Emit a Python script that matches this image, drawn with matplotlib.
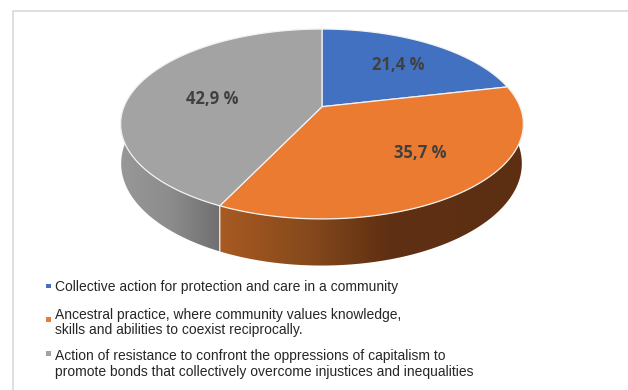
import numpy as np
import matplotlib
matplotlib.use("Agg")
import matplotlib.pyplot as plt
from matplotlib.patches import Polygon, Rectangle
from matplotlib.colors import LinearSegmentedColormap

# === Data ===
values = [21.4, 35.7, 42.9]
value_labels = ["21,4 %", "35,7 %", "42,9 %"]
legend_labels = [
    "Collective action for protection and care in a community",
    "Ancestral practice, where community values knowledge,\nskills and abilities to coexist reciprocally.",
    "Action of resistance to confront the oppressions of capitalism to\npromote bonds that collectively overcome injustices and inequalities",
]
colors = ["#4371C1", "#EB7B31", "#A3A3A3"]

plt.rcParams['font.family'] = ['Liberation Sans', 'DejaVu Sans']


# perspective projection of the pie, angle is clockwise from 12 o'clock
def project(theta, cx, cy, a, b, k=0.182):
    u = np.sin(theta)
    v = np.cos(theta)
    w = 1 + k * v
    return np.column_stack([cx + a * u / w, cy - b * v / w])


def top_rim(theta):
    return project(theta, 322, 106.7, 198, 91.8)


def low_rim(theta):
    return project(theta, 321.5, 145, 197, 98.6)


fig = plt.figure(figsize=(6.28, 3.9), dpi=100, facecolor='white')
ax = fig.add_axes([0, 0, 1, 1])
ax.set_xlim(0, 628)
ax.set_ylim(390, 0)
ax.axis('off')

# thin frame lines of the screenshot, top and left
ax.plot([628, 12.5, 12.5], [11.3, 11.3, 390], color='#d9d9d9', lw=1.2, zorder=1)

# slice boundaries
edges = np.cumsum([0] + values) / sum(values) * 2 * np.pi
apex = np.array([322, 106.7])

# === Sides of the pie, with gradient ===
side_cmaps = {
    1: [(0.0, '#a85a22'), (0.28, '#874a1c'), (0.55, '#5f3012'), (1.0, '#5d2f12')],
    2: [(0.0, '#989898'), (0.5, '#8c8c8c'), (1.0, '#6e6e6e')],
}
side_extent = {1: (220, 524), 2: (120, 222)}
for i in [2, 1]:
    t = np.linspace(edges[i], edges[i + 1], 200)
    poly = Polygon(np.vstack([top_rim(t), low_rim(t)[::-1]]), closed=True,
                   facecolor='none', edgecolor='none')
    ax.add_patch(poly)
    cmap = LinearSegmentedColormap.from_list('side%d' % i, side_cmaps[i])
    x0, x1 = side_extent[i]
    im = ax.imshow(np.linspace(0, 1, 256).reshape(1, -1), cmap=cmap, aspect='auto',
                   extent=(x0, x1, 275, 20), zorder=2)
    im.set_clip_path(poly)
    # light line where two sides meet
    ax.plot(*np.vstack([top_rim(t[:1]), low_rim(t[:1])]).T, color='#efefef', lw=0.9, zorder=3)
ax.set_xlim(0, 628)
ax.set_ylim(390, 0)

# === Top of the pie ===
for i in range(3):
    t = np.linspace(edges[i], edges[i + 1], 200)
    ax.add_patch(Polygon(np.vstack([apex, top_rim(t)]), closed=True, facecolor=colors[i],
                         edgecolor='#f2f2f2', lw=0.9, joinstyle='round', zorder=4))

# value labels, placed by hand
label_pos = [(398, 64.5), (420, 153.5), (212, 99.5)]
for lab, (x, y) in zip(value_labels, label_pos):
    ax.text(x, y, lab, ha='center', va='center', fontsize=12, fontweight='bold',
            color='#404040', family=['Open Sans', 'DejaVu Sans'], zorder=5)

# === Legend ===
text_y = [287.5, 322.5, 364]
marker_y = [286, 319.5, 353.5]
for lab, ty, my, c in zip(legend_labels, text_y, marker_y, colors):
    ax.add_patch(Rectangle((45.5, my - 2.2), 5, 4.4, facecolor=c, edgecolor='none', zorder=5))
    ax.text(55, ty, lab, ha='left', va='center', fontsize=10, color='#262626',
            linespacing=1.1, zorder=5)

fig.savefig("out.png", dpi=100)
